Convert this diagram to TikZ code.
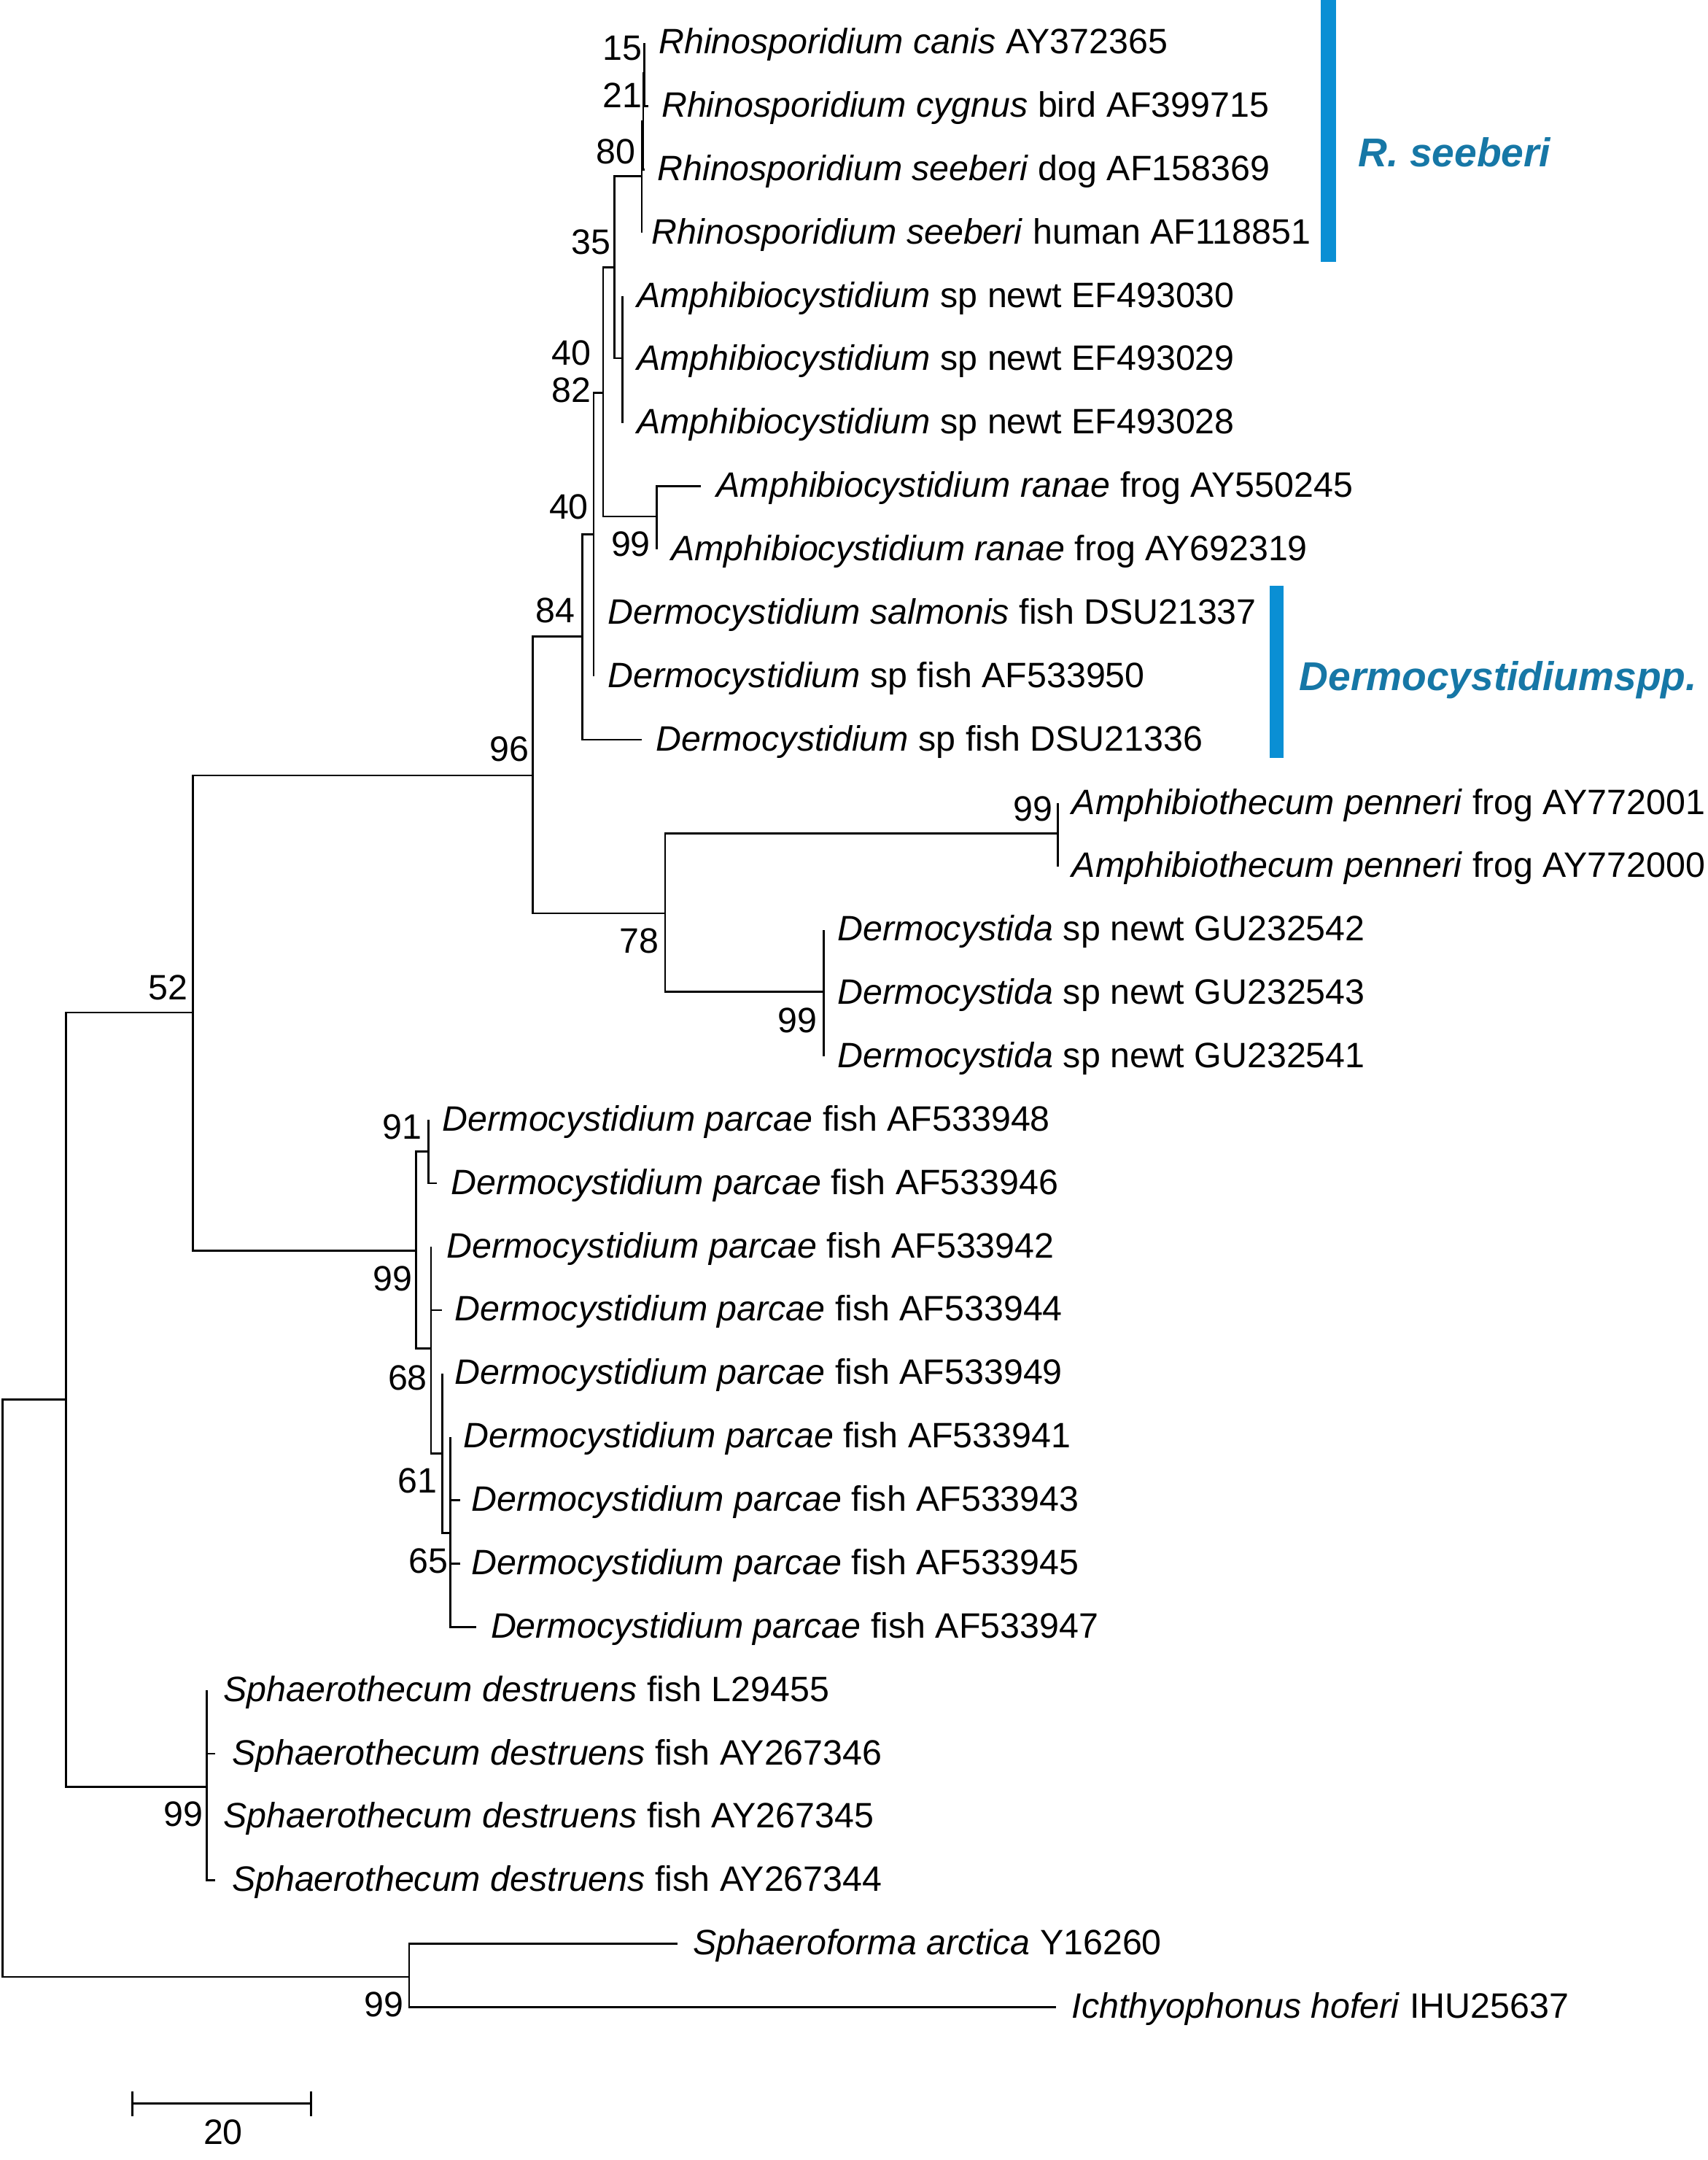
\documentclass[tikz,border=0pt]{standalone}
\usepackage{fontspec}
\newfontfamily\treefont{Liberation Sans}
\definecolor{barblue}{HTML}{0A8FD4}
\definecolor{cladeblue}{HTML}{1677A6}
\tikzset{
    branch/.style={line width=0.7pt},
    taxon/.style={anchor=base west, inner sep=0pt, font=\treefont\fontsize{12.8}{15}\selectfont},
    boot/.style={inner sep=0pt, font=\treefont\fontsize{12.8}{15}\selectfont},
    clade/.style={anchor=base west, inner sep=0pt, text=cladeblue, font=\treefont\fontsize{14.6}{17}\selectfont\bfseries\itshape}
}
\begin{document}
\begin{tikzpicture}[x=0.5pt, y=-0.5pt]

            % the frame
            \useasboundingbox (0, 0) rectangle (1240, 1568);

            % inner nodes
            \coordinate (root) at (2, 1226);
            \coordinate (nA) at (48, 1016);
            \coordinate (n52) at (140, 735);
            \coordinate (n96) at (387, 563);
            \coordinate (n84) at (423, 462);
            \coordinate (n40) at (431, 388);
            \coordinate (n82) at (438, 285);
            \coordinate (n35) at (446, 194);
            \coordinate (n80) at (466, 128);
            \coordinate (n21) at (467, 88);
            \coordinate (n15) at (468, 53);
            \coordinate (nAmp) at (452, 260);
            \coordinate (nRan) at (477, 375);
            \coordinate (n78) at (483, 663);
            \coordinate (nPen) at (768, 605);
            \coordinate (nDa) at (598, 720);
            \coordinate (nPar) at (302, 908);
            \coordinate (n91) at (311, 836);
            \coordinate (nPb) at (313, 979);
            \coordinate (n68) at (321, 1055);
            \coordinate (n61) at (327, 1113);
            \coordinate (nSph) at (150, 1297);
            \coordinate (nIch) at (297, 1435);

            % the taxa
            \foreach \n/\tx/\lx/\r/\txt in {
                1/468/478/0/{\textit{Rhinosporidium canis} AY372365},
                2/471/480/1/{\textit{Rhinosporidium cygnus} bird AF399715},
                3/468/477/2/{\textit{Rhinosporidium seeberi} dog AF158369},
                4/466/473/3/{\textit{Rhinosporidium seeberi} human AF118851},
                5/452/462/4/{\textit{Amphibiocystidium} sp newt EF493030},
                6/452/462/5/{\textit{Amphibiocystidium} sp newt EF493029},
                7/452/462/6/{\textit{Amphibiocystidium} sp newt EF493028},
                8/509/520/7/{\textit{Amphibiocystidium ranae} frog AY550245},
                9/477/487/8/{\textit{Amphibiocystidium ranae} frog AY692319},
                10/431/441/9/{\textit{Dermocystidium salmonis} fish DSU21337},
                11/431/441/10/{\textit{Dermocystidium} sp fish AF533950},
                12/466/476/11/{\textit{Dermocystidium} sp fish DSU21336},
                13/768/778/12/{\textit{Amphibiothecum penneri} frog AY772001},
                14/768/778/13/{\textit{Amphibiothecum penneri} frog AY772000},
                15/598/608/14/{\textit{Dermocystida} sp newt GU232542},
                16/598/608/15/{\textit{Dermocystida} sp newt GU232543},
                17/598/608/16/{\textit{Dermocystida} sp newt GU232541},
                18/311/321/17/{\textit{Dermocystidium parcae} fish AF533948},
                19/317/327/18/{\textit{Dermocystidium parcae} fish AF533946},
                20/313/324/19/{\textit{Dermocystidium parcae} fish AF533942},
                21/321/330/20/{\textit{Dermocystidium parcae} fish AF533944},
                22/321/330/21/{\textit{Dermocystidium parcae} fish AF533949},
                23/327/336/22/{\textit{Dermocystidium parcae} fish AF533941},
                24/334/342/23/{\textit{Dermocystidium parcae} fish AF533943},
                25/334/342/24/{\textit{Dermocystidium parcae} fish AF533945},
                26/346/356/25/{\textit{Dermocystidium parcae} fish AF533947},
                27/150/162/26/{\textit{Sphaerothecum destruens} fish L29455},
                28/156/168/27/{\textit{Sphaerothecum destruens} fish AY267346},
                29/150/162/28/{\textit{Sphaerothecum destruens} fish AY267345},
                30/156/168/29/{\textit{Sphaerothecum destruens} fish AY267344},
                31/492/503/30/{\textit{Sphaeroforma arctica} Y16260},
                32/767/778/31/{\textit{Ichthyophonus hoferi} IHU25637}} {
                \coordinate (t\n) at (\tx, {31 + 46*\r});
                \node[taxon] (l\n) at (\lx, {39 + 46*\r}) {\txt};
            };

            % the branches
            \foreach \a/\b in {root/nA, root/nIch, nA/n52, nA/nSph, n52/n96, n52/nPar,
                n96/n84, n96/n78, n84/n40, n84/t12, n40/n82, n40/t10, n40/t11,
                n82/n35, n82/nRan, n35/n80, n35/nAmp, n80/n21, n80/t4, n21/n15, n21/t3,
                n15/t1, n15/t2, nAmp/t5, nAmp/t6, nAmp/t7, nRan/t8, nRan/t9,
                n78/nPen, n78/nDa, nPen/t13, nPen/t14, nDa/t15, nDa/t16, nDa/t17,
                nPar/n91, nPar/nPb, n91/t18, n91/t19, nPb/t20, nPb/t21, nPb/n68,
                n68/t22, n68/n61, n61/t23, n61/t24, n61/t25, n61/t26,
                nSph/t27, nSph/t28, nSph/t29, nSph/t30, nIch/t31, nIch/t32} {
                \draw[branch] (\a) |- (\b);
            };

            % bootstrap values
            \foreach \bx/\by/\bv [count=\i] in {452/35/15, 452/69/21, 447/110/80, 429/176/35,
                415/256/40, 415/283/82, 413/368/40, 458/395/99, 403/443/84, 370/544/96,
                750/587/99, 464/683/78, 579/741/99, 122/717/52, 292/818/91, 285/928/99,
                296/1000/68, 303/1075/61, 311/1133/65, 133/1317/99, 279/1455/99} {
                \node[boot] (b\i) at (\bx, \by) {\bv};
            };

            % clade bars
            \fill[barblue] (959, 0) rectangle (970, 190);
            \fill[barblue] (922, 425) rectangle (932, 550);
            \node[clade] (seeb) at (986, 121) {R. seeberi};
            \node[clade] (derm) at (943, 501) {Dermocystidiumspp.};

            % scale
            \coordinate (s0) at (96, 1527);
            \coordinate (s1) at (226, 1527);
            \draw[line width=0.9pt] (s0) -- (s1);
            \draw[line width=0.9pt] ([yshift=4.5pt]s0) -- ([yshift=-4.5pt]s0);
            \draw[line width=0.9pt] ([yshift=4.5pt]s1) -- ([yshift=-4.5pt]s1);
            \node[boot] (sl) at (162, 1548) {20};
        \end{tikzpicture}
\end{document}
